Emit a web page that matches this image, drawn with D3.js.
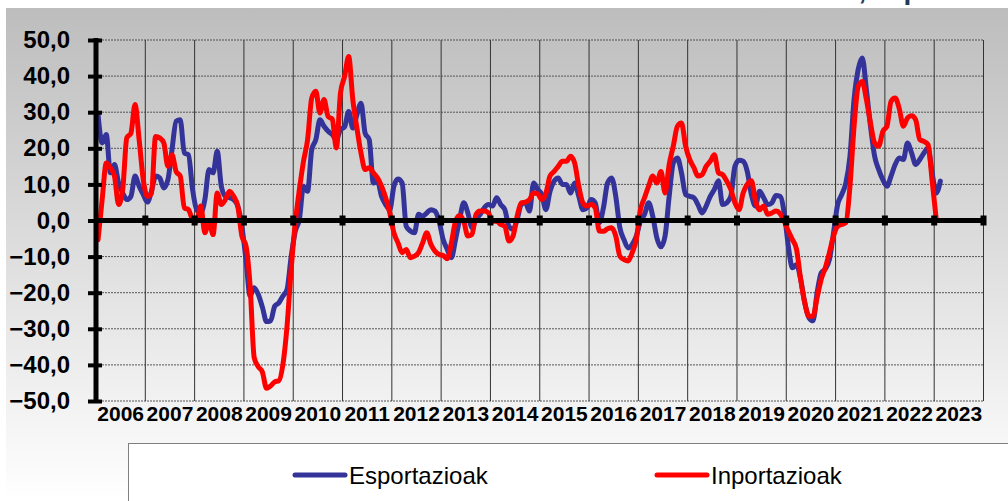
<!DOCTYPE html>
<html>
<head>
<meta charset="utf-8">
<script src="https://cdn.jsdelivr.net/npm/d3@7"></script>
<style>
  body { margin: 0; background: #fff; }
  svg { display: block; font-family: "Liberation Sans", Arial, sans-serif; }
</style>
</head>
<body>
<svg id="chart" width="1008" height="501"></svg>
<script>
// year labels, one per 12-month category block
var years = ["2006","2007","2008","2009","2010","2011","2012","2013","2014","2015","2016","2017","2018","2019","2020","2021","2022","2023"];
var yTicks = [50, 40, 30, 20, 10, 0, -10, -20, -30, -40, -50];

// Esportazioak, monthly
var esportazioak = [
  29.3, 21.5, 23.8, 13.2, 15.5, 10.4, 7.6, 5.8, 6.7, 12.3, 9.5, 7.2,
  5.1, 8.1, 12.3, 11.8, 9.0, 11.3, 19.6, 27.5, 27.9, 18.7, 18.2, 8.6,
  3.0, 2.1, 5.8, 14.1, 13.2, 19.2, 9.5, 6.7, 6.3, 5.8, 4.0, -1.6,
  -10.8, -20.9, -18.6, -20.5, -24.0, -28.0, -27.8, -23.7, -22.8, -20.9, -19.1, -10.0,
  -3.0, 0.3, 9.5, 8.1, 19.6, 22.4, 27.9, 26.1, 24.7, 23.8, 22.4, 25.2,
  25.9, 30.2, 25.6, 29.3, 32.5, 24.2, 22.4, 10.4, 10.9, 6.7, 4.4, 3.0,
  9.5, 11.5, 10.4, -1.6, -2.9, -3.4, 1.7, 1.2, 2.1, 3.0, 2.6, -0.2,
  -5.3, -8.0, -10.3, -5.3, 0.3, 4.9, 2.1, -2.0, 0.3, 1.7, 3.5, 4.4,
  4.0, 6.3, 4.4, 3.0, -1.6, -2.5, 0.3, 4.4, 4.9, 2.6, 10.4, 8.6,
  7.2, 3.0, 8.1, 10.9, 11.8, 10.0, 10.0, 7.6, 10.4, 6.7, 3.0, 3.5,
  5.8, 4.9, -0.6, 3.5, 10.4, 11.8, 6.7, -2.0, -5.3, -7.6, -6.6, -4.3,
  -0.2, 1.7, 4.9, 1.2, -4.8, -7.3, -4.3, 6.7, 15.9, 17.3, 13.2, 7.2,
  6.7, 6.3, 4.4, 2.1, 4.0, 6.7, 8.6, 11.0, 4.4, 4.9, 6.7, 15.0,
  16.7, 16.4, 13.6, 7.2, 4.0, 8.1, 6.3, 4.4, 4.9, 6.9, 6.7, 2.1,
  -7.1, -13.1, -12.2, -16.3, -22.8, -26.9, -27.8, -20.0, -14.5, -13.4, -10.8, -3.4,
  4.4, 7.2, 10.4, 17.8, 33.5, 41.8, 45.0, 36.2, 26.1, 17.8, 14.1, 11.3,
  9.5, 12.3, 15.5, 17.3, 16.9, 21.5, 18.7, 15.5, 16.9, 18.7, 20.1, 13.2,
  7.6, 10.9
];

// Inportazioak, monthly
var inportazioak = [
  -5.3, 5.8, 15.9, 14.6, 12.3, 4.4, 8.6, 22.9, 24.2, 32.1, 22.4, 11.3,
  6.7, 7.6, 23.3, 22.9, 21.5, 15.0, 18.2, 13.6, 12.3, 3.5, 3.0, 0.3,
  -0.2, 4.0, -3.4, -0.2, -3.9, 7.6, 4.4, 5.8, 8.1, 6.7, 4.0, -4.3,
  -7.0, -18.0, -38.0, -40.5, -42.0, -46.5, -45.8, -44.7, -44.4, -39.8, -29.2, -13.5,
  -0.6, 8.6, 16.4, 22.4, 33.9, 35.8, 29.8, 33.5, 28.8, 28.1, 20.1, 35.3,
  39.9, 45.4, 33.5, 25.6, 18.7, 14.1, 14.6, 13.2, 11.8, 9.5, 6.3, 2.1,
  -3.4, -6.2, -8.9, -8.0, -10.3, -9.9, -8.9, -6.2, -3.4, -6.6, -8.5, -9.4,
  -9.7, -10.6, -6.2, -0.2, 1.4, -0.2, -4.3, -3.9, 1.7, 2.6, 2.6, 2.1,
  -0.2, -0.2, -1.1, -1.6, -5.7, -4.3, 1.2, 4.9, 5.1, 5.8, 7.6, 7.4,
  5.8, 7.6, 12.3, 13.6, 15.0, 16.4, 16.4, 17.8, 15.9, 9.5, 4.9, 4.0,
  4.4, 3.5, -2.9, -3.0, -2.3, -2.0, -4.3, -9.9, -10.8, -11.2, -8.9, -5.3,
  3.0, 6.3, 9.5, 12.3, 10.4, 13.6, 7.6, 15.5, 20.6, 26.1, 27.0, 20.6,
  16.9, 14.7, 12.3, 12.7, 15.0, 16.4, 18.2, 13.2, 12.7, 10.9, 8.6, 4.9,
  3.0, 7.6, 10.0, 11.0, 5.5, 3.0, 4.0, 1.7, 2.1, 2.6, 1.9, -0.2,
  -2.9, -5.3, -8.0, -16.3, -22.8, -26.5, -26.5, -21.4, -16.3, -13.1, -8.9, -4.3,
  -1.6, -1.1, -0.6, 9.5, 26.1, 37.1, 38.5, 33.5, 27.0, 21.5, 20.6, 24.7,
  26.1, 33.0, 33.9, 31.0, 26.1, 28.4, 29.0, 27.9, 22.4, 21.9, 21.0, 11.0,
  0.3
];

var svg = d3.select("#chart");
var plotLeft = 96, plotRight = 983.5, plotTop = 40, plotBottom = 401;

var x = d3.scaleLinear().domain([0, years.length * 12]).range([plotLeft, plotRight]);
var y = d3.scaleLinear().domain([-50, 50]).range([plotBottom, plotTop]);

// background gradient
var defs = svg.append("defs");
var grad = defs.append("linearGradient").attr("id", "bg")
    .attr("x1", 0).attr("y1", 0).attr("x2", 0).attr("y2", 1);
grad.append("stop").attr("offset", "0%").attr("stop-color", "#bdbdbd");
grad.append("stop").attr("offset", "100%").attr("stop-color", "#ffffff");

svg.append("rect")
    .attr("x", 6).attr("y", 8)
    .attr("width", 1002).attr("height", 493)
    .attr("fill", "url(#bg)");

// cut-off title at the very top (only the descenders fall inside the picture)
svg.append("text")
    .attr("x", 1000).attr("y", -1)
    .attr("text-anchor", "end")
    .attr("fill", "#1f3b57")
    .style("font-weight", "bold").style("font-size", "28px")
    .text("Urteko aldakuntza tasa, Gipuzkoa");

// horizontal dotted gridlines
svg.append("g").selectAll("line")
    .data(yTicks).enter().append("line")
    .attr("x1", plotLeft).attr("x2", plotRight)
    .attr("y1", function(d) { return y(d); })
    .attr("y2", function(d) { return y(d); })
    .attr("stroke", "#555")
    .attr("stroke-width", 1)
    .attr("stroke-dasharray", "2,1");

// vertical year gridlines
var yearBounds = d3.range(1, years.length + 1).map(function(i) { return i * 12; });
svg.append("g").selectAll("line")
    .data(yearBounds).enter().append("line")
    .attr("x1", function(d) { return x(d); })
    .attr("x2", function(d) { return x(d); })
    .attr("y1", plotTop).attr("y2", plotBottom)
    .attr("stroke", "#333")
    .attr("stroke-width", 1);

// series lines (each month drawn half a slot in from its start)
var line = d3.line()
    .x(function(d, i) { return x(i + 0.5); })
    .y(function(d) { return y(d); })
    .curve(d3.curveMonotoneX);

svg.append("path")
    .datum(esportazioak)
    .attr("fill", "none")
    .attr("stroke", "#333399")
    .attr("stroke-width", 5)
    .attr("stroke-linejoin", "round")
    .attr("stroke-linecap", "round")
    .attr("d", line);

svg.append("path")
    .datum(inportazioak)
    .attr("fill", "none")
    .attr("stroke", "#ff0000")
    .attr("stroke-width", 5)
    .attr("stroke-linejoin", "round")
    .attr("stroke-linecap", "round")
    .attr("d", line);

// zero line with small square ticks
svg.append("line")
    .attr("x1", plotLeft).attr("x2", plotRight)
    .attr("y1", y(0)).attr("y2", y(0))
    .attr("stroke", "#000").attr("stroke-width", 5);

svg.append("g").selectAll("rect")
    .data(yearBounds).enter().append("rect")
    .attr("x", function(d) { return x(d) - 3; })
    .attr("y", y(0) - 5)
    .attr("width", 6).attr("height", 10)
    .attr("fill", "#000");

// y axis
var yAxis = d3.axisLeft(y)
    .tickValues(yTicks)
    .tickSize(8)
    .tickPadding(18)
    .tickFormat(function(d) { return d3.format(".1f")(d).replace(".", ","); });

var ya = svg.append("g")
    .attr("transform", "translate(" + plotLeft + ",0)")
    .call(yAxis);
ya.select(".domain").remove();
ya.selectAll(".tick line")
    .attr("x1", -8).attr("x2", 6)
    .attr("stroke", "#000").attr("stroke-width", 4);
ya.selectAll(".tick text")
    .attr("fill", "#000")
    .style("font-size", "24px")
    .style("font-weight", "bold")
    .style("font-family", "'Liberation Sans', Arial, sans-serif");

svg.append("line")
    .attr("x1", plotLeft).attr("x2", plotLeft)
    .attr("y1", plotTop - 2).attr("y2", plotBottom + 2)
    .attr("stroke", "#000").attr("stroke-width", 5);

// year labels centred in each 12-month block
svg.append("g").selectAll("text")
    .data(years).enter().append("text")
    .attr("x", function(d, i) { return x(i * 12 + 6); })
    .attr("y", 421)
    .attr("text-anchor", "middle")
    .style("font-size", "21px")
    .style("font-weight", "bold")
    .text(function(d) { return d; });

// legend
svg.append("rect")
    .attr("x", 128.5).attr("y", 443.5)
    .attr("width", 900).attr("height", 80)
    .attr("fill", "#fff")
    .attr("stroke", "#7f7f7f");

var legendItems = [
  { name: "Esportazioak", color: "#333399", x: 293 },
  { name: "Inportazioak", color: "#ff0000", x: 655 }
];
var lg = svg.append("g").selectAll("g")
    .data(legendItems).enter().append("g")
    .attr("transform", function(d) { return "translate(" + d.x + ",475)"; });
lg.append("line")
    .attr("x1", 2).attr("x2", 52)
    .attr("stroke", function(d) { return d.color; })
    .attr("stroke-width", 5)
    .attr("stroke-linecap", "round");
lg.append("text")
    .attr("x", 56).attr("y", 9)
    .style("font-size", "24px")
    .text(function(d) { return d.name; });
</script>
</body>
</html>
